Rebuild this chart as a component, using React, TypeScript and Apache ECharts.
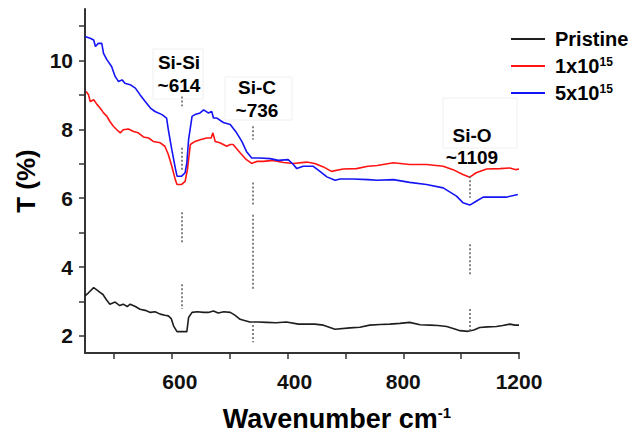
import React, { useEffect, useRef } from 'react';
import * as echarts from 'echarts';

const FONT = '"Liberation Sans", Arial, Helvetica, sans-serif';

const seriesNames = ['Pristine', '1x10^15', '5x10^15'];
const seriesColors = ['#1e1e1e', '#ff1414', '#1414f5'];

const pristine: [number, number][] = [
  [450, 3.16], [456, 3.25], [465, 3.4], [471, 3.33], [476, 3.26], [481, 3.2], [487, 3.05],
  [493, 2.92], [502, 2.98], [510, 2.88], [516, 2.92], [523, 2.85], [528, 2.92], [537, 2.85],
  [545, 2.77], [554, 2.74], [563, 2.68], [571, 2.7], [580, 2.63], [588, 2.6], [594, 2.58],
  [599, 2.5], [603, 2.29], [609, 2.12], [626, 2.12], [629, 2.53], [635, 2.68], [644, 2.7],
  [655, 2.68], [663, 2.68], [672, 2.72], [680, 2.66], [690, 2.7], [701, 2.68], [709, 2.6],
  [718, 2.48], [727, 2.44], [735, 2.4], [749, 2.4], [764, 2.39], [780, 2.38], [798, 2.4],
  [819, 2.34], [833, 2.34], [847, 2.34], [862, 2.31], [882, 2.19], [908, 2.23], [925, 2.25],
  [942, 2.31], [960, 2.33], [977, 2.34], [994, 2.36], [1011, 2.39], [1029, 2.32], [1046, 2.31],
  [1060, 2.3], [1075, 2.27], [1089, 2.2], [1098, 2.15], [1112, 2.13], [1122, 2.17], [1132, 2.24],
  [1146, 2.26], [1161, 2.27], [1172, 2.3], [1184, 2.34], [1193, 2.31], [1200, 2.31],
];

const dose1: [number, number][] = [
  [452, 9.1], [456, 9.01], [459, 8.81], [465, 8.86], [471, 8.72], [476, 8.62], [482, 8.48],
  [488, 8.38], [493, 8.23], [499, 8.09], [505, 7.99], [511, 7.9], [516, 7.99], [525, 8.01],
  [534, 7.94], [542, 7.9], [551, 7.78], [560, 7.75], [568, 7.65], [580, 7.61], [588, 7.51],
  [594, 7.27], [600, 6.93], [606, 6.54], [609, 6.4], [617, 6.4], [623, 6.49], [627, 6.83],
  [632, 7.56], [640, 7.65], [649, 7.7], [660, 7.75], [668, 7.75], [671, 7.9], [675, 7.65],
  [683, 7.61], [695, 7.51], [701, 7.56], [706, 7.56], [718, 7.32], [729, 7.12], [738, 7.01],
  [747, 7.07], [758, 7.07], [775, 7.1], [793, 7.04], [810, 7.01], [833, 7.05], [847, 7.01],
  [862, 6.91], [876, 6.78], [896, 6.85], [919, 6.86], [939, 6.93], [955, 6.95], [983, 7.03],
  [1011, 6.98], [1040, 6.98], [1069, 6.93], [1086, 6.83], [1103, 6.69], [1115, 6.61],
  [1126, 6.74], [1144, 6.85], [1167, 6.86], [1184, 6.88], [1195, 6.83], [1200, 6.85],
];

const dose5: [number, number][] = [
  [450, 10.7], [459, 10.65], [465, 10.6], [468, 10.41], [473, 10.5], [479, 10.5], [482, 10.21],
  [488, 10.02], [496, 9.83], [502, 9.54], [508, 9.39], [514, 9.44], [519, 9.34], [528, 9.3],
  [537, 9.2], [545, 9.01], [554, 8.81], [563, 8.62], [571, 8.52], [583, 8.43], [591, 8.33],
  [594, 7.99], [600, 7.41], [606, 6.88], [609, 6.64], [617, 6.64], [623, 6.74], [626, 7.03],
  [629, 7.7], [635, 8.38], [640, 8.43], [649, 8.48], [655, 8.57], [663, 8.48], [669, 8.52],
  [672, 8.33], [678, 8.33], [689, 8.2], [701, 8.14], [712, 7.9], [721, 7.65], [729, 7.36],
  [738, 7.17], [752, 7.17], [770, 7.15], [784, 7.1], [801, 7.12], [810, 6.98], [816, 6.86],
  [827, 6.93], [844, 6.93], [856, 6.78], [868, 6.62], [882, 6.52], [891, 6.56], [913, 6.56],
  [939, 6.54], [955, 6.52], [983, 6.54], [1011, 6.46], [1040, 6.4], [1069, 6.3], [1092, 6.06],
  [1103, 5.87], [1115, 5.8], [1126, 5.91], [1138, 6.03], [1155, 6.03], [1178, 6.03], [1198, 6.11],
];

const xTickValues = [500, 600, 700, 800, 900, 1000, 1100, 1200];
const xLabelValues = [600, 800, 1000, 1200];
const xLabelTexts = ['600', '400', '800', '1200'];
const yTickValues = [2, 3, 4, 5, 6, 7, 8, 9, 10, 11];
const yLabelValues = [2, 4, 6, 8, 10];

const peakNames = ['Si-Si', 'Si-C', 'Si-O'];
const peakLabels = ['~614', '~736', '~1109'];
const peakX = [617, 740, 1115];
const peakSegments: [number, number][][] = [
  [[8.96, 8.67], [7.47, 6.83], [5.59, 4.72], [3.5, 2.78]],
  [[8.09, 7.7], [6.46, 5.77], [5.52, 3.35], [2.43, 1.81]],
  [[6.64, 6.01], [4.66, 3.79], [2.78, 2.15]],
];

export default function App() {
  const ref = useRef<HTMLDivElement>(null);
  useEffect(() => {
    if (!ref.current) return;
    document.body.style.margin = '0';
    const chart = echarts.init(ref.current, undefined, { renderer: 'svg' });
    const datasets = [pristine, dose1, dose5];

    const markData: any[] = [];
    peakX.forEach((x, i) => {
      peakSegments[i].forEach(([a, b]) => {
        markData.push([{ coord: [x, a] }, { coord: [x, b] }]);
      });
    });

    const annPos = [
      { x: 179, y: 51, lh: 23 },
      { x: 257, y: 76, lh: 23 },
      { x: 472, y: 124, lh: 22 },
    ];
    const boxes = [
      { x: 153, y: 49, w: 50, h: 50 },
      { x: 225, y: 77, w: 67, h: 43 },
      { x: 443, y: 98, w: 74, h: 50 },
    ];
    const labelShift = [16, 14, 0, 0];

    const graphic: any[] = [];
    boxes.forEach((b) => {
      graphic.push({
        type: 'rect', silent: true, z: 1,
        shape: { x: b.x, y: b.y, width: b.w, height: b.h },
        style: { fill: 'rgba(255,255,255,0)', stroke: '#f0f0f0', lineWidth: 1 },
      });
    });
    peakNames.forEach((n, i) => {
      graphic.push({
        type: 'text', silent: true, z: 10,
        x: annPos[i].x, y: annPos[i].y,
        style: {
          text: n + '\n' + peakLabels[i],
          font: `bold 19px ${FONT}`,
          fill: '#000',
          align: 'center',
          verticalAlign: 'top',
          lineHeight: annPos[i].lh,
        },
      });
    });

    const sup = {
      fontSize: 12, fontWeight: 'bold', fontFamily: FONT, color: '#000',
      verticalAlign: 'top', lineHeight: 12,
    };
    const tickRich: any = {};
    labelShift.forEach((s, i) => {
      tickRich['l' + i] = {
        fontSize: 21, fontWeight: 'bold', fontFamily: FONT, color: '#111',
        padding: [0, 0, 0, s],
      };
    });

    chart.setOption({
      animation: false,
      backgroundColor: '#fff',
      grid: { left: 85, right: 119, top: 9, bottom: 84, containLabel: false },
      legend: {
        orient: 'vertical', left: 506, top: 24,
        icon: 'rect', itemWidth: 34, itemHeight: 2, itemGap: 7,
        data: seriesNames,
        formatter: (name: string) => name.replace(/\^(\d+)/, '{sup|$1}'),
        textStyle: {
          fontSize: 20, fontWeight: 'bold', fontFamily: FONT, color: '#000',
          lineHeight: 20, padding: [0, 0, 0, 5],
          rich: { sup },
        },
      },
      xAxis: {
        type: 'value', min: 450, max: 1200,
        name: 'Wavenumber cm{sup|-1}', nameLocation: 'middle', nameGap: 52,
        nameTextStyle: {
          fontSize: 27, fontWeight: 'bold', fontFamily: FONT, color: '#000',
          padding: [0, 0, 0, 70],
          rich: { sup: { ...sup, fontSize: 15, lineHeight: 15 } },
        },
        axisLine: { show: true, onZero: false, lineStyle: { color: '#333', width: 2 } },
        axisTick: { show: true, inside: false, length: 6, customValues: xTickValues, lineStyle: { color: '#333', width: 1.5 } },
        axisLabel: {
          customValues: xLabelValues, margin: 18,
          formatter: (v: number) => {
            const k = xLabelValues.indexOf(v);
            return k < 0 ? '' : `{l${k}|${xLabelTexts[k]}}`;
          },
          fontSize: 21, fontWeight: 'bold', fontFamily: FONT, color: '#111',
          rich: tickRich,
        },
        splitLine: { show: false },
      },
      yAxis: {
        type: 'value', min: 1.5, max: 11.5,
        name: 'T (%)', nameLocation: 'middle', nameGap: 45,
        nameTextStyle: { fontSize: 26, fontWeight: 'bold', fontFamily: FONT, color: '#000' },
        axisLine: { show: true, onZero: false, lineStyle: { color: '#333', width: 2 } },
        axisTick: { show: true, inside: false, length: 6, customValues: yTickValues, lineStyle: { color: '#333', width: 1.5 } },
        axisLabel: {
          customValues: yLabelValues, margin: 12,
          fontSize: 21, fontWeight: 'bold', fontFamily: FONT, color: '#111',
        },
        splitLine: { show: false },
      },
      graphic,
      series: seriesNames.map((name, i) => ({
        name, type: 'line', symbol: 'none', showSymbol: false,
        data: datasets[i],
        lineStyle: { color: seriesColors[i], width: 1.6 },
        itemStyle: { color: seriesColors[i] },
        z: 3 + i,
        markLine: i === 0 ? {
          silent: true, symbol: 'none',
          label: { show: false },
          lineStyle: { color: '#666', width: 1.6, type: [2, 2] },
          data: markData,
        } : undefined,
      })),
    });
    return () => chart.dispose();
  }, []);
  return <div ref={ref} style={{ width: 638, height: 437 }} />;
}
